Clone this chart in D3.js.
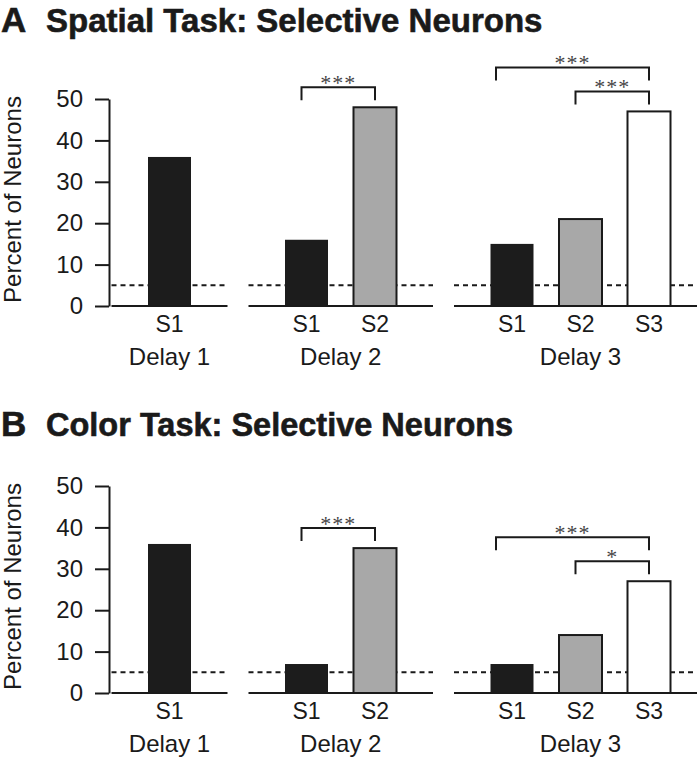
<!DOCTYPE html>
<html>
<head>
<meta charset="utf-8">
<script src="https://cdn.jsdelivr.net/npm/d3@7"></script>
<style>
  body { margin: 0; background: #fff; }
  svg { display: block; font-family: "Liberation Sans", Arial, sans-serif; }
  .title { font-weight: bold; fill: #1a1a1a; stroke: #1a1a1a; stroke-width: 0.6px; }
  .tick text, .lab { fill: #1a1a1a; }
  .stars { font-family: "Liberation Serif", "DejaVu Serif", serif; fill: #444; }
</style>
</head>
<body>
<div id="chart"></div>
<script>
// Chart size.
const width = 700;
const height = 758;

// Data.
const delays = ["Delay 1", "Delay 2", "Delay 3"];
const stimuli = [["S1"], ["S1", "S2"], ["S1", "S2", "S3"]];
const barColors = { S1: "#1c1c1c", S2: "#a8a8a8", S3: "#ffffff" };
const yTicks = [0, 10, 20, 30, 40, 50];
const chance = 5; // dashed line

const spatialValues = [[36], [16, 48], [15, 21, 47]];
const colorValues = [[36], [7, 35], [7, 14, 27]];

// Significance brackets: delay index, from / to stimulus, label, stack level.
const spatialSig = [
  { delay: 1, from: 0, to: 1, label: "***", level: 0 },
  { delay: 2, from: 1, to: 2, label: "***", level: 0 },
  { delay: 2, from: 0, to: 2, label: "***", level: 1 }
];
const colorSig = [
  { delay: 1, from: 0, to: 1, label: "***", level: 0 },
  { delay: 2, from: 1, to: 2, label: "*", level: 0 },
  { delay: 2, from: 0, to: 2, label: "***", level: 1 }
];

const panels = [
  { letter: "A", title: "Spatial Task: Selective Neurons", values: spatialValues, sig: spatialSig, top: 0, titleY: 32, titleSize: 33 },
  { letter: "B", title: "Color Task: Selective Neurons", values: colorValues, sig: colorSig, top: 387, titleY: 49, titleSize: 32.5 }
];

// Slot index of each bar: groups separated by one empty slot.
const groupStart = [];
stimuli.reduce((acc, s, i) => { groupStart[i] = acc; return acc + s.length + 1; }, 0);

const x = d3.scaleLinear().domain([0, 7]).range([169.5, 649]);
const barW = 43;
const ext = 58; // baseline extends past the outer bars

const svg = d3.select("#chart").append("svg")
  .attr("width", width)
  .attr("height", height);

panels.forEach(p => drawPanel(p));

function drawPanel(p) {
  const g = svg.append("g").attr("transform", `translate(0,${p.top})`);
  const y = d3.scaleLinear().domain([0, 50]).range([306, 99]);

  // Titles
  g.append("text").attr("class", "title")
    .attr("x", 1).attr("y", p.titleY)
    .style("font-size", "35px")
    .text(p.letter);
  g.append("text").attr("class", "title")
    .attr("x", 46).attr("y", p.titleY)
    .style("font-size", p.titleSize + "px")
    .text(p.title);

  // Y axis
  const yAxis = g.append("g")
    .attr("transform", "translate(109,0)")
    .call(d3.axisLeft(y).tickValues(yTicks).tickSize(14).tickPadding(12).tickSizeOuter(0));
  yAxis.select(".domain").attr("stroke", "#1a1a1a").attr("stroke-width", 2);
  yAxis.selectAll(".tick line").attr("stroke", "#1a1a1a").attr("stroke-width", 2);
  yAxis.selectAll(".tick text")
    .style("font-size", "24px")
    .attr("font-family", "'Liberation Sans', Arial, sans-serif");

  g.append("text").attr("class", "lab")
    .attr("transform", `translate(21,${y(25) - 3}) rotate(-90)`)
    .attr("text-anchor", "middle")
    .style("font-size", "24px")
    .text("Percent of Neurons");

  // Groups
  delays.forEach((name, gi) => {
    const xs = stimuli[gi].map((s, k) => x(groupStart[gi] + k));
    const x0 = xs[0] - ext;
    const x1 = Math.min(xs[xs.length - 1] + ext, width - 3);

    // chance level
    g.append("line")
      .attr("x1", x0).attr("x2", x1)
      .attr("y1", y(chance)).attr("y2", y(chance))
      .attr("stroke", "#1a1a1a").attr("stroke-width", 2)
      .attr("stroke-dasharray", "5,4");

    // bars
    g.selectAll(null)
      .data(stimuli[gi].map((s, k) => ({ s, v: p.values[gi][k], cx: xs[k] })))
      .join("rect")
      .attr("x", d => d.cx - barW / 2)
      .attr("y", d => y(d.v))
      .attr("width", barW)
      .attr("height", d => y(0) - y(d.v))
      .attr("fill", d => barColors[d.s])
      .attr("stroke", "#1a1a1a")
      .attr("stroke-width", d => d.s === "S1" ? 0 : 2);

    // baseline
    g.append("line")
      .attr("x1", x0).attr("x2", x1)
      .attr("y1", y(0)).attr("y2", y(0))
      .attr("stroke", "#1a1a1a").attr("stroke-width", 2);

    // stimulus labels
    g.selectAll(null)
      .data(stimuli[gi].map((s, k) => ({ s, cx: xs[k] })))
      .join("text").attr("class", "lab")
      .attr("x", d => d.cx).attr("y", 332)
      .attr("text-anchor", "middle")
      .style("font-size", "23px")
      .text(d => d.s);

    // delay label
    g.append("text").attr("class", "lab")
      .attr("x", (xs[0] + xs[xs.length - 1]) / 2).attr("y", 365)
      .attr("text-anchor", "middle")
      .style("font-size", "24px")
      .text(name);
  });

  // Significance brackets
  p.sig.forEach(b => {
    const base = groupStart[b.delay];
    const xl = x(base + b.from) - 5 - b.level * 11;
    const xr = x(base + b.to);
    const vmax = d3.max(p.values[b.delay].slice(b.from, b.to + 1));
    const legEnd = y(vmax) - 7 - b.level * 24;
    const top = legEnd - 13;
    g.append("path")
      .attr("d", `M${xl},${legEnd}V${top}H${xr}V${legEnd}`)
      .attr("fill", "none")
      .attr("stroke", "#1a1a1a").attr("stroke-width", 2);
    g.append("text").attr("class", "stars")
      .attr("x", (xl + xr) / 2).attr("y", top + 3)
      .attr("text-anchor", "middle")
      .style("font-size", "22px")
      .style("letter-spacing", "1px")
      .text(b.label);
  });
}
</script>
</body>
</html>
